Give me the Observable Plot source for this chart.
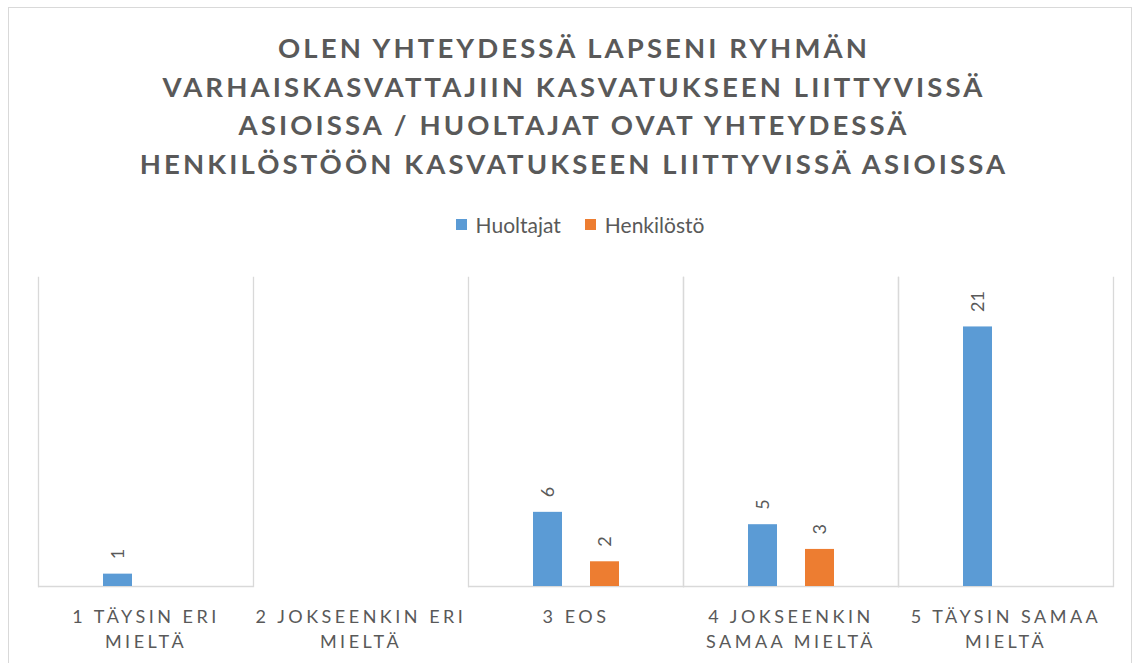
<!DOCTYPE html>
<html>
<head>
<meta charset="utf-8">
<script src="https://cdn.jsdelivr.net/npm/d3@7"></script>
<script src="https://cdn.jsdelivr.net/npm/@observablehq/plot@0.6"></script>
<style>
  html, body { margin: 0; padding: 0; background: #fff; }
  body { width: 1141px; height: 663px; position: relative; overflow: hidden; font-family: Lato, "Open Sans", sans-serif; color: #595959; }
  #frame { position: absolute; left: 8px; top: 7px; width: 1124px; height: 700px; border: 1px solid #d9d9d9; box-sizing: border-box; }
  #title { position: absolute; left: 0; top: 29px; width: 1148px; text-align: center; font-weight: 700; font-size: 27.5px; letter-spacing: 3.1px; line-height: 38.5px; color: #595959; }
  #legend { position: absolute; left: 0; top: 212px; width: 1160px; display: flex; justify-content: center; align-items: center; font-size: 21px; color: #595959; }
  .item { display: flex; align-items: center; margin: 0 12px; }
  .sw { width: 11px; height: 11px; margin-right: 9px; }
  #chart { position: absolute; left: 0; top: 250px; }
  #chart svg g[aria-label="fx-axis tick label"] text { letter-spacing: 3.5px; }
</style>
</head>
<body>
<div id="frame"></div>
<div id="title"></div>
<div id="legend"></div>
<div id="chart"></div>
<script>
const titleLines = [
  "OLEN YHTEYDESSÄ LAPSENI RYHMÄN",
  "VARHAISKASVATTAJIIN KASVATUKSEEN LIITTYVISSÄ",
  "ASIOISSA / HUOLTAJAT OVAT YHTEYDESSÄ",
  "HENKILÖSTÖÖN KASVATUKSEEN LIITTYVISSÄ ASIOISSA"
];
const categories = ["1 TÄYSIN ERI MIELTÄ", "2 JOKSEENKIN ERI MIELTÄ", "3 EOS", "4 JOKSEENKIN SAMAA MIELTÄ", "5 TÄYSIN SAMAA MIELTÄ"];
const categoryLabels = ["1 TÄYSIN ERI\nMIELTÄ", "2 JOKSEENKIN ERI\nMIELTÄ", "3 EOS", "4 JOKSEENKIN\nSAMAA MIELTÄ", "5 TÄYSIN SAMAA\nMIELTÄ"];
const series = ["Huoltajat", "Henkilöstö"];
const huoltajat = [1, 0, 6, 5, 21];
const henkilosto = [0, 0, 2, 3, 0];
const colors = ["#5B9BD5", "#ED7D31"];

document.getElementById("title").innerHTML = titleLines.join("<br>");
document.getElementById("legend").innerHTML = series.map((s, i) =>
  `<div class="item"><div class="sw" style="background:${colors[i]}"></div><span>${s}</span></div>`).join("");

const rows = [];
categories.forEach((c, i) => {
  rows.push({cat: c, s: series[0], v: huoltajat[i]});
  rows.push({cat: c, s: series[1], v: henkilosto[i]});
});
const shown = rows.filter(d => d.v > 0);
const labelOf = new Map(categories.map((c, i) => [c, categoryLabels[i]]));

const plot = Plot.plot({
  width: 1141,
  height: 413,
  marginLeft: 38,
  marginRight: 28,
  marginTop: 27,
  marginBottom: 77,
  style: { fontFamily: "Lato, 'Open Sans', sans-serif", color: "#595959", background: "transparent" },
  fx: { domain: categories, padding: 0, label: null, axis: null },
  x: { domain: series, paddingInner: 0.496, paddingOuter: 1.117, axis: null },
  y: { domain: [0, 25], axis: null },
  color: { domain: series, range: colors },
  marks: [
    Plot.axisFx({ anchor: "bottom", label: null, tickFormat: d => labelOf.get(d), tickSize: 0, tickPadding: 19, fontSize: 18, lineHeight: 1.38, fill: "#595959" }),
    Plot.frame({ anchor: "left", stroke: "#d9d9d9", strokeWidth: 1.3 }),
    Plot.frame({ anchor: "right", stroke: "#d9d9d9", strokeWidth: 1.3 }),
    Plot.ruleY([0], { stroke: "#d9d9d9", strokeWidth: 1.5 }),
    Plot.barY(shown, { fx: "cat", x: "s", y: "v", fill: "s" }),
    Plot.text(shown, { fx: "cat", x: "s", y: "v", text: d => String(d.v), rotate: -90, textAnchor: "start", lineAnchor: "middle", dy: -15, fontSize: 18, fill: "#595959" })
  ]
});
document.getElementById("chart").appendChild(plot);
</script>
</body>
</html>
